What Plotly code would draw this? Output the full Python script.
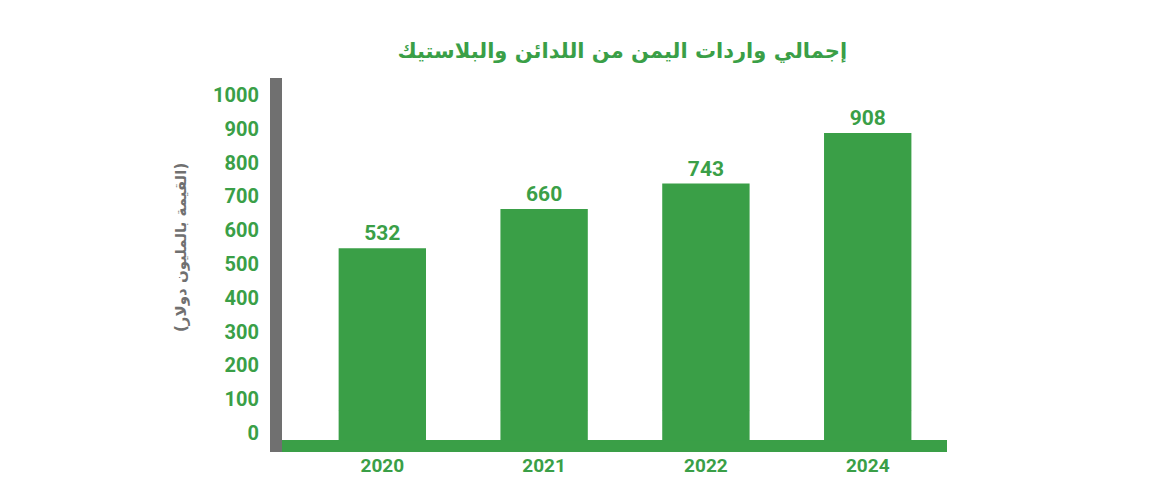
import plotly.graph_objects as go

years = ['2020', '2021', '2022', '2024']
values = [532, 660, 743, 908]
tick_vals = [0, 100, 200, 300, 400, 500, 600, 700, 800, 900, 1000]
title_text = 'إجمالي واردات اليمن من اللدائن والبلاستيك'
ytitle_text = '(القيمة بالمليون دولار)'

green = '#3a9f47'
gray = '#707070'
fnt = 'Roboto'
bar_w = 0.54

fig = go.Figure()
fig.add_trace(go.Bar(x=years, y=values, marker_color=green, marker_line_width=0, width=bar_w,
                     text=[str(v) for v in values], textposition='outside',
                     textfont=dict(family=fnt, size=21, color=green, weight='bold'),
                     cliponaxis=False, showlegend=False))
# invisible trace to activate the tick-label axis
fig.add_trace(go.Scatter(x=[years[0]], y=[0], yaxis='y2', mode='markers',
                         marker=dict(opacity=0), showlegend=False, hoverinfo='skip'))

# bar feet reaching down to the strip
for i in range(len(years)):
    fig.add_shape(type='rect', xref='x', yref='y', x0=i - bar_w / 2, x1=i + bar_w / 2,
                  y0=-96, y1=1, fillcolor=green, line_width=0, layer='below')
# green baseline strip
fig.add_shape(type='rect', xref='paper', yref='y', x0=0, x1=1, y0=-134, y1=-95,
              fillcolor=green, line_width=0, layer='below')
# gray left bar
fig.add_shape(type='rect', xref='paper', yref='paper', x0=-12 / 665, x1=0, y0=0, y1=1,
              fillcolor=gray, line_width=0)

fig.update_layout(
    width=1170, height=500,
    margin=dict(l=274, r=231, t=70, b=56),
    plot_bgcolor='white', paper_bgcolor='white',
    font=dict(family=fnt, color=green),
    title=dict(text='<b>' + title_text + '</b>', x=0.525, xanchor='center', y=0.93,
               font=dict(family='DejaVu Sans', size=21, color=green)),
    xaxis=dict(range=[-0.62, 3.49], showgrid=False, showline=False, ticks='',
               tickfont=dict(family=fnt, size=19, color=green, weight='bold')),
    yaxis=dict(range=[-134, 1088], visible=False),
    yaxis2=dict(range=[-56, 1050], overlaying='y', side='left', tickvals=tick_vals,
                showgrid=False, zeroline=False, showline=False, ticks='',
                ticklabelstandoff=22,
                tickfont=dict(family=fnt, size=20, color=green, weight='bold')),
    annotations=[dict(text='<b>' + ytitle_text + '</b>', textangle=-90, xref='paper', yref='paper',
                      x=(170 - 282) / 665, y=(452 - 248) / 374, showarrow=False,
                      font=dict(family='DejaVu Sans', size=15, color=gray))],
)
fig.write_html('out.html')
